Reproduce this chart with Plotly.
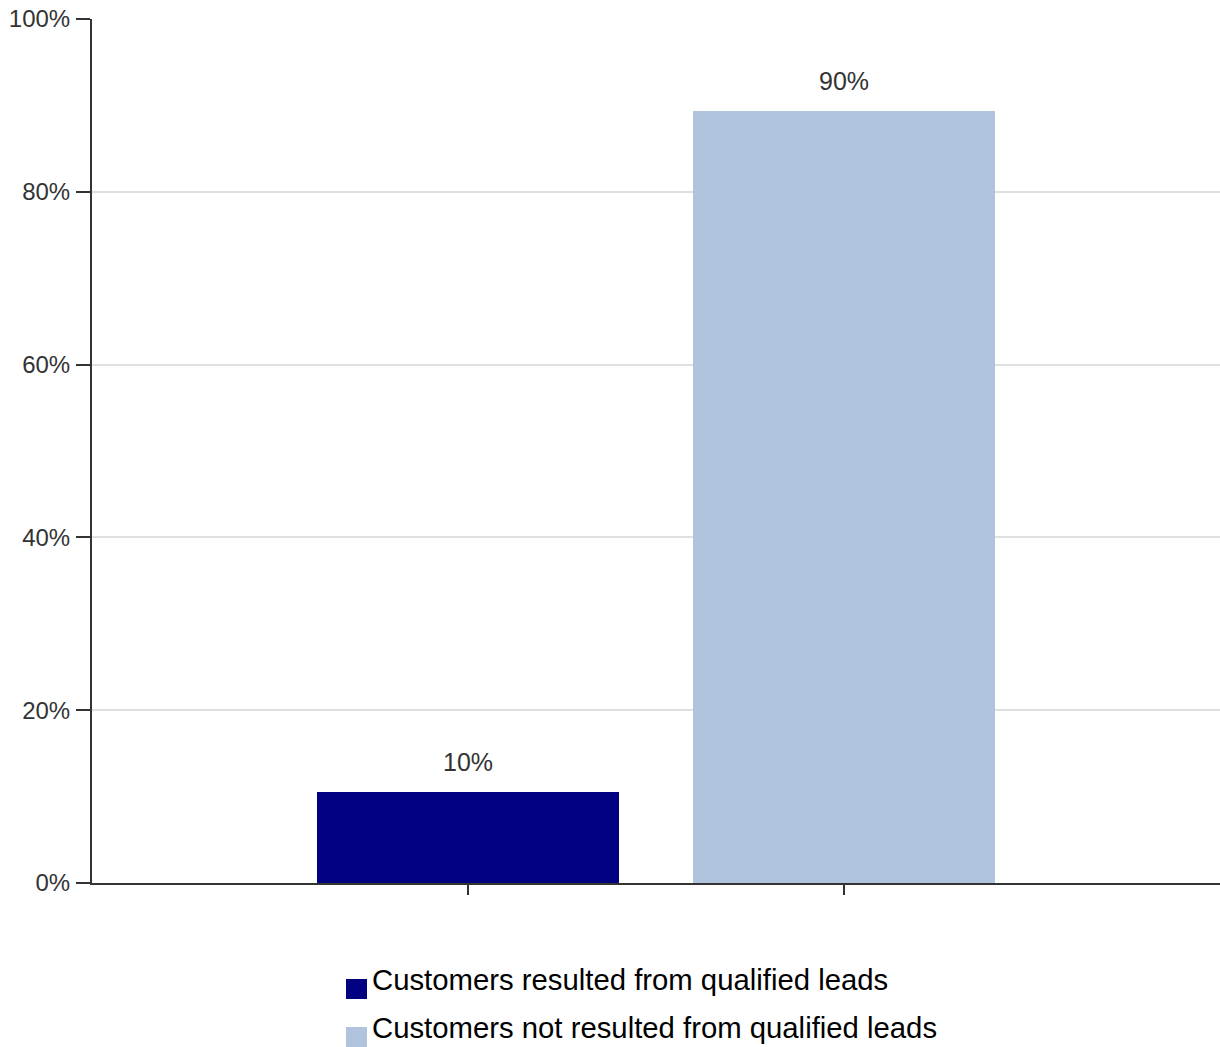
import plotly.graph_objects as go

series_names = ["Customers resulted from qualified leads",
                "Customers not resulted from qualified leads"]
series_values = [10.5, 89.4]
value_labels = ["10%", "90%"]
series_colors = ["#000080", "#B0C4DE"]
x_positions = [0, 1]
y_ticks = [0, 20, 40, 60, 80, 100]
y_tick_labels = ["0%", "20%", "40%", "60%", "80%", "100%"]

W, H = 1220, 1047
M_L, M_R, M_T, M_B = 92, 0, 19, 164
plot_h = H - M_T - M_B

fig = go.Figure()
for name, v, c, x in zip(series_names, series_values, series_colors, x_positions):
    fig.add_trace(go.Bar(x=[x], y=[v], name=name, marker=dict(color=c, line=dict(width=0)),
                         width=0.805, showlegend=False,
                         hovertemplate=name + ": %{y}%<extra></extra>"))

annotations = []
for v, lab, x in zip(series_values, value_labels, x_positions):
    annotations.append(dict(x=x, y=v, xref="x", yref="y", text=lab, showarrow=False,
                            yanchor="bottom", yshift=14,
                            font=dict(family="Liberation Sans, Arial", size=25, color="#333333")))

# manual legend below the plot
def py(pix):
    return (H - M_B - pix) / plot_h

leg_text_y = [979, 1027]
leg_box_y = [979, 1027]
shapes = []
for name, c, ty, by in zip(series_names, series_colors, leg_text_y, leg_box_y):
    shapes.append(dict(type="rect", xref="paper", yref="paper",
                       x0=(346 - M_L) / (W - M_L - M_R), x1=(367 - M_L) / (W - M_L - M_R),
                       y0=py(by), y1=py(by + 20), fillcolor=c, line=dict(width=0)))
    annotations.append(dict(x=(370 - M_L) / (W - M_L - M_R), y=py(ty), xref="paper", yref="paper",
                            text=name, showarrow=False, xanchor="left", yanchor="middle",
                            font=dict(family="Liberation Sans, Arial", size=29.3, color="#000000")))

fig.update_layout(
    width=W, height=H,
    margin=dict(l=M_L, r=M_R, t=M_T, b=M_B, pad=0),
    paper_bgcolor="white", plot_bgcolor="white",
    showlegend=False,
    bargap=0,
    annotations=annotations,
    shapes=shapes,
    xaxis=dict(range=[-1, 2], tickvals=x_positions, ticktext=["", ""], showgrid=False,
               zeroline=False, showline=True, linecolor="#333333", linewidth=2,
               ticks="outside", ticklen=10, tickwidth=2, tickcolor="#333333"),
    yaxis=dict(range=[0, 100], tickvals=y_ticks, ticktext=y_tick_labels, showgrid=True,
               gridcolor="#E0E0E0", gridwidth=1.5, zeroline=False, showline=True,
               linecolor="#333333", linewidth=2, ticks="outside", ticklen=14, tickwidth=2,
               tickcolor="#333333", ticklabelstandoff=1,
               tickfont=dict(family="Liberation Sans, Arial", size=24, color="#333333")),
)

fig.write_html("out.html", config={"displayModeBar": False},
               post_script="document.body.style.margin='0';document.body.style.overflow='hidden';")
